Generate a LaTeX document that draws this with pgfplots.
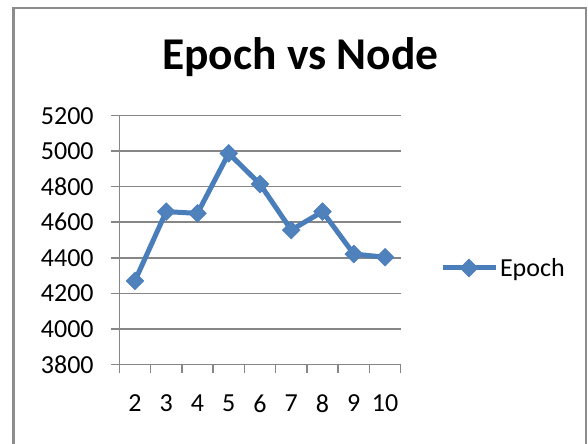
\documentclass[border=0pt]{standalone}
\usepackage{pgfplots}
\pgfplotsset{compat=1.18}
\usepackage{fontspec}
\setmainfont{Carlito}
\definecolor{gridgray}{HTML}{868686}
\definecolor{framegray}{HTML}{8C8C8C}
\definecolor{serline}{HTML}{4A7EBB}
\definecolor{serfill}{HTML}{4F81BD}
\begin{document}
\begin{tikzpicture}
\useasboundingbox (0,0) rectangle (588bp,-444bp);
\draw[color=framegray, line width=2.5bp] (13.5bp,-520bp) -- (13.5bp,-8bp) -- (586bp,-8bp) -- (586bp,-520bp);
\node[font=\fontsize{45.5bp}{52bp}\selectfont\bfseries, anchor=base, inner sep=0pt] at (300.4bp,-69bp) {Epoch vs Node};
\begin{axis}[
  at={(119.3bp,-364.3bp)}, anchor=south west,
  width=281.4bp, height=248.6bp, scale only axis,
  xmin=1.5, xmax=10.5, ymin=3800, ymax=5200,
  ytick={3800,4000,...,5200},
  xtick={1.5,2.5,...,10.5}, xticklabels={},
  extra x ticks={2,3,...,10},
  extra x tick labels={2,3,4,5,6,7,8,9,10},
  extra x tick style={major tick length=0pt, xticklabel style={anchor=north, inner sep=0pt, yshift=-30bp}},
  axis x line=bottom, axis y line=left,
  axis line style={-, gridgray, line width=1.5bp},
  tick align=outside, major tick length=8.5bp,
  tick style={gridgray, line width=1.5bp},
  ymajorgrids, major grid style={gridgray, line width=1.5bp},
  ticklabel style={font=\fontsize{26bp}{31bp}\selectfont},
  yticklabel style={anchor=east, inner sep=0pt, xshift=-17bp},
  /pgf/number format/assume math mode=true,
  /pgf/number format/1000 sep={},
  clip=false,
  legend style={at={(1.1397,0.3874)}, anchor=west, draw=none, fill=none,
    inner sep=0pt, outer sep=0pt, nodes={inner sep=0pt},
    font=\fontsize{26bp}{31bp}\selectfont},
  legend cell align=left,
  legend image code/.code={
    \draw[#1, mark=none] (0bp,0bp) -- (53bp,0bp);
    \draw[#1, only marks] plot coordinates {(26.5bp,0bp)};
  },
]
\addplot[color=serline, line width=5bp, mark=square*, mark size=6.3bp,
  mark options={fill=serfill, draw=serline, line width=0.5bp, rotate=45}]
  coordinates {(2,4270) (3,4660) (4,4650) (5,4988) (6,4815) (7,4556) (8,4660) (9,4421) (10,4403)};
\addlegendentry{\hspace{2bp}Epoch}
\end{axis}
\end{tikzpicture}
\end{document}
